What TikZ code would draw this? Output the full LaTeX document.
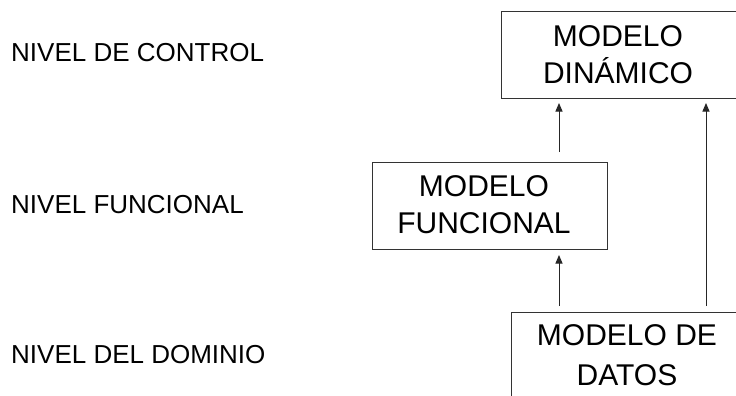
\documentclass[tikz,border=0pt]{standalone}
\usepackage{fontspec}
\setmainfont{Liberation Sans}
\usetikzlibrary{arrows.meta}
\begin{document}
\begin{tikzpicture}[x=1pt,y=-1pt,
  boxshape/.style={draw=black!80, line width=1pt, rectangle, inner sep=0pt, anchor=north west},
  boxtext/.style={inner sep=0pt, align=center, font=\fontsize{30}{37}\selectfont},
  levellabel/.style={inner sep=0pt, anchor=base west, font=\fontsize{26}{30}\selectfont},
  arrowline/.style={draw=black!85, line width=1pt, -{Triangle[length=8.5pt,width=7pt]}}]
\clip (0,0) rectangle (736,396);
\useasboundingbox (0,0) rectangle (736,396);
% level labels
\node[levellabel] (lc) at (11,62) {NIVEL DE CONTROL};
\node[levellabel] (lf) at (11,213) {NIVEL FUNCIONAL};
\node[levellabel] (ld) at (11,363) {NIVEL DEL DOMINIO};
% boxes
\node[boxshape, minimum width=239pt, minimum height=87pt] (dyn) at (501,11) {};
\node[boxshape, minimum width=235pt, minimum height=87pt] (fun) at (372,162) {};
\node[boxshape, minimum width=231pt, minimum height=88pt] (dat) at (511,312) {};
% box texts
\node[boxtext] (dyntxt) at (618,55) {MODELO\\DIN\'AMICO};
\node[boxtext] (funtxt) at (484,204.5) {MODELO\\FUNCIONAL};
\node[boxtext, font=\fontsize{30}{40}\selectfont] (dattxt) at (627,355) {MODELO DE\\DATOS};
% arrow columns
\coordinate (lx) at (559,0);
\coordinate (rx) at (706,0);
\draw[arrowline, shorten <=10pt, shorten >=4pt] (fun.north -| lx) -- (dyn.south -| lx);
\draw[arrowline, shorten <=6pt, shorten >=5pt] (dat.north -| lx) -- (fun.south -| lx);
\draw[arrowline, shorten <=6pt, shorten >=4pt] (dat.north -| rx) -- (dyn.south -| rx);
\end{tikzpicture}
\end{document}
